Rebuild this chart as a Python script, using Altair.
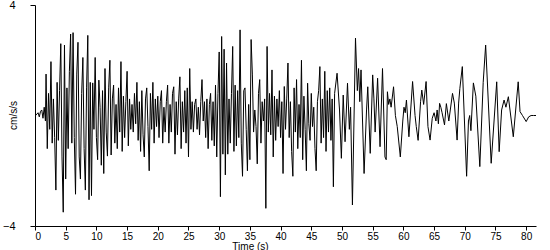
import altair as alt
import pandas as pd

# quiet start (s, cm/s/s)
pre_t = [0.1, 0.3, 0.5, 0.7, 0.9, 1.1, 1.3, 1.5, 1.7]
pre_v = [0.0, 0.05, 0.1, -0.05, 0.15, 0.2, -0.1, 0.3, -0.2]

# strong-motion part, sampled every 0.2 s from 1.8 s
dense_start = 1.8
dense_step = 0.2
dense_v = [
    1.5, -1.2, 0.8, -0.5, 1.95, -1.0, 0.6, -0.8, -2.7, 1.2,
    -0.9, 0.9, 2.6, -1.5, -3.5, 2.55, -2.3, 1.0, -1.2, 1.6,
    2.95, -1.0, 3.0, -0.8, -2.85, 1.5, 2.65, -1.5, -2.3, 0.8,
    2.1, -1.2, -2.7, 1.0, 2.9, -3.05, 1.2, -2.9, 1.18, -0.5,
    2.1, -0.8, -1.6, 1.28, 0.3, -1.8, 0.9, -2.1, 1.7, -0.6,
    -1.47, 1.0, 2.0, -1.43, 0.6, 1.1, -1.0, 0.4, -1.2, 1.0,
    -0.6, 1.95, -1.3, 0.7, -0.8, 0.5, 1.6, -1.1, 0.6, -0.5,
    0.4, -0.6, 0.8, -0.3, 1.2, -0.9, 0.5, -1.3, 0.9, -0.7,
    -1.5, 0.6, 1.0, -0.4, -2.0, 0.8, -0.5, 1.2, -1.0, 0.6,
    -0.4, 0.7, -0.8, 0.5, 0.9, -1.0, 0.3, -0.6, 0.5, 1.1,
    -1.0, 0.4, -0.6, 0.8, 1.04, -1.4, 0.5, -0.7, 0.6, 1.4,
    -1.2, 0.5, -0.6, 0.9, -1.0, 1.0, -1.5, 1.7, -0.5, 0.5,
    -0.6, 0.4, 0.6, -0.5, 0.3, -0.7, 0.5, 1.3, -0.2, 0.5,
    -0.8, 0.6, -1.2, 0.4, 0.8, -0.9, 0.5, -1.1, 1.1, -1.5,
    0.8, 2.3, -2.94, 2.86, -1.4, 2.4, -2.15, 1.9, -1.4, 0.6,
    -1.0, 0.8, 2.5, -1.3, 1.1, -1.1, 0.9, -0.8, 3.1, -1.0,
    -2.2, 0.9, 1.0, -0.5, -2.0, 0.4, -1.6, 2.75, 1.5, -0.6,
    0.2, -0.4, -1.75, 0.8, 1.3, -1.0, 0.5, -0.2, 0.6, -3.36,
    2.5, -0.6, 0.8, -0.7, 1.65, -1.5, 0.7, -0.9, 0.6, -0.4,
    0.9, -0.8, 0.5, -2.1, 1.05, -0.5, 0.6, 1.9, -0.8, 0.5,
    -1.3, -2.2, 1.0, -0.6, 1.3, -1.2, 0.4, -0.8, 2.0, -1.6,
    0.7, -0.5, -2.0, 1.17, -0.3, -0.9, 0.8, -0.4, 0.3, -1.2,
    -2.0, 0.5, 0.9, 1.77, -1.0, 0.6, -0.8, 1.6, -1.3, 0.9,
    -0.6, 1.0, -0.9, 0.6, -2.58, 0.8,
]

# later, smoother part: turning points
tail_t = [
    49.2, 49.6, 49.9, 50.2, 50.5, 50.9, 51.2, 51.4, 51.7, 52.2,
    52.5, 52.7, 52.9, 53.1, 53.6, 54.0, 54.2, 54.6, 55.0, 55.2,
    55.4, 55.8, 56.2, 56.6, 57.0, 57.2, 57.4, 57.6, 57.8, 58.0,
    58.4, 58.7, 59.0, 59.5, 59.9, 60.1, 60.3, 60.5, 60.9, 61.5,
    61.9, 62.1, 62.4, 62.8, 63.0, 63.3, 63.7, 64.0, 64.35, 64.7,
    65.0, 65.3, 65.5, 65.7, 65.9, 66.1, 66.3, 66.7, 67.0, 67.4,
    68.0, 68.3, 68.75, 69.0, 69.2, 69.6, 70.3, 70.6, 70.8, 71.0,
    71.4, 71.8, 72.45, 73.0, 73.4, 74.3, 75.2, 75.6, 76.0, 76.4,
    76.7, 77.1, 77.9, 78.7, 79.0, 79.4, 80.0, 80.4, 80.8, 81.2,
    81.6,
]
tail_v = [
    1.53, 0.2, -1.55, 0.74, -0.95, 1.17, -0.5, 0.3, -3.24, 2.8,
    0.9, 1.7, 0.5, 1.65, -2.1, 0.2, 1.04, -1.37, 1.47, 0.6,
    -0.6, 1.35, -1.13, 1.7, -1.5, -1.6, 0.86, 0.4, 0.6, 0.3,
    1.04, 0.0, -0.4, -1.5, -0.2, 0.3, 0.1, 0.56, -0.77, 1.23,
    0.0, -0.4, -0.9, 0.5, 0.92, 0.4, 1.23, -0.4, -0.89, -0.1,
    0.1, -0.2, 0.2, -0.3, 0.44, 0.3, 0.1, -0.34, 0.43, -0.2,
    0.8, 0.45, -0.89, 0.45, 0.98, 1.77, -2.2, -0.2, 0.0, -0.55,
    1.18, 0.7, -1.85, 1.2, 2.55, -1.73, 1.22, -1.31, 0.2, 0.56,
    0.3, 0.68, -0.77, 1.22, 0.14, 0.0, -0.22, -0.05, 0.0, 0.0,
    0.0,
]

x_ticks = [0, 5, 10, 15, 20, 25, 30, 35, 40, 45, 50, 55, 60, 65, 70, 75, 80]
y_ticks = [-4, 4]

times = list(pre_t)
values = list(pre_v)
for i, v in enumerate(dense_v):
    times.append(round(dense_start + dense_step * i, 3))
    values.append(v)
times += tail_t
values += tail_v

df = pd.DataFrame({"t": times, "a": values})

FONT = "Liberation Sans"

chart = (
    alt.Chart(df)
    .mark_line(color="black", strokeWidth=1, clip=True)
    .encode(
        x=alt.X(
            "t:Q",
            scale=alt.Scale(domain=[0, 81.6], nice=False, zero=False),
            axis=alt.Axis(
                values=x_ticks,
                title="Time (s)",
                grid=False,
                domainColor="black",
                tickColor="black",
                tickSize=4,
                labelPadding=1,
                labelFontSize=10,
                labelColor="black",
                labelFont=FONT,
                titleFont=FONT,
                titleFontSize=10,
                titleFontWeight="normal",
                titleColor="black",
                titleX=215,
                titleY=20,
                titleBaseline="middle",
            ),
        ),
        y=alt.Y(
            "a:Q",
            scale=alt.Scale(domain=[-4, 4], nice=False),
            axis=alt.Axis(
                values=y_ticks,
                title="cm/s/s",
                grid=False,
                domainColor="black",
                tickColor="black",
                tickSize=5,
                labelPadding=15,
                labelFontSize=11,
                labelColor="black",
                labelFont=FONT,
                titleFont=FONT,
                titleFontSize=10,
                titleFontWeight="normal",
                titleColor="black",
                titleX=-22,
                titleY=110,
                titleBaseline="middle",
                titleAngle=-90,
            ),
        ),
    )
    .properties(
        width=501,
        height=221,
        autosize=alt.AutoSizeParams(type="none"),
        padding={"left": 35, "top": 5, "right": 14, "bottom": 24},
        background="white",
    )
    .configure_view(stroke=None)
)

chart.save("out.html", embed_options={"renderer": "svg", "actions": False})
